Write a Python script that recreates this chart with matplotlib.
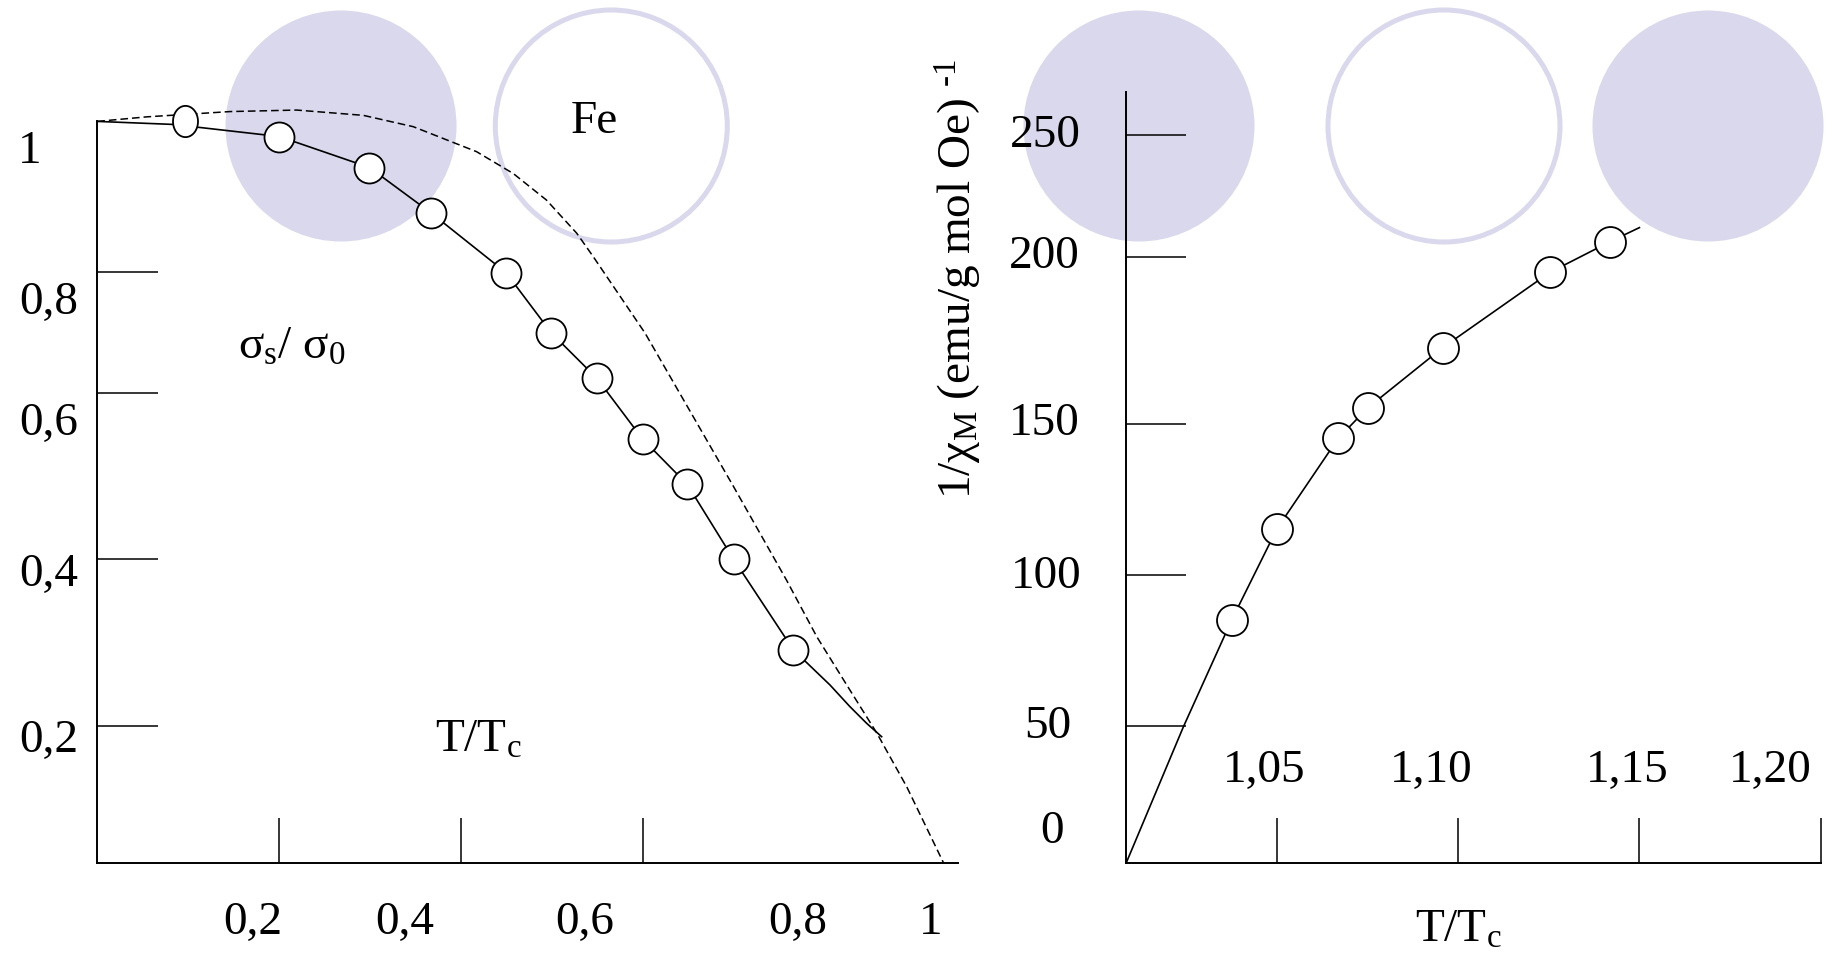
import numpy as np
import matplotlib
matplotlib.use("Agg")
import matplotlib.pyplot as plt
from matplotlib.patches import Circle
from matplotlib.path import Path

plt.rcParams['font.family'] = ['Liberation Serif', 'DejaVu Serif']
plt.rcParams['mathtext.fontset'] = 'custom'
plt.rcParams['mathtext.rm'] = 'Liberation Serif'
plt.rcParams['mathtext.it'] = 'Liberation Serif:italic'

# ---- left panel: sigma_s / sigma_0 vs T/Tc (Fe) ----
sig_t = [0.1045, 0.216, 0.323, 0.396, 0.485, 0.539, 0.593, 0.647, 0.700, 0.755, 0.826]
sig_v = [1.000, 0.980, 0.939, 0.879, 0.800, 0.720, 0.660, 0.580, 0.520, 0.421, 0.301]

fit_t = [0.0, 0.09, 0.216, 0.323, 0.396, 0.485, 0.539, 0.593, 0.647, 0.700, 0.755, 0.826,
         0.8695, 0.8932, 0.9130, 0.9308]
fit_v = [1.0, 0.996, 0.980, 0.939, 0.879, 0.800, 0.720, 0.660, 0.580, 0.520, 0.421, 0.301,
         0.2545, 0.2258, 0.2038, 0.1861]

theo_t = [0.0, 0.0586, 0.1575, 0.2366, 0.3157, 0.375, 0.450, 0.4937, 0.533, 0.569, 0.5886,
          0.650, 0.755, 0.818, 0.854, 0.893, 0.925, 0.9605, 0.990, 1.004]
theo_v = [1.0, 1.006, 1.013, 1.015, 1.008, 0.993, 0.960, 0.931, 0.896, 0.852, 0.821,
          0.720, 0.517, 0.393, 0.318, 0.248, 0.191, 0.120, 0.052, 0.0197]

# tick marks as drawn (hand drawn, not evenly spaced)
left_yticks = [0.8004, 0.6407, 0.4206, 0.2]
left_xticks = [0.216, 0.4318, 0.6477]
left_ylabels = ["1", "0,8", "0,6", "0,4", "0,2"]
left_xlabels = ["0,2", "0,4", "0,6", "0,8", "1"]

# ---- right panel: 1/chi_M vs T/Tc ----
chi_t = [1.0303, 1.0434, 1.0610, 1.0696, 1.0911, 1.1220, 1.1394]
chi_v = [83.3, 114.8, 145.8, 156.4, 177.0, 202.9, 213.5]
chi_fit_t = [1.0, 1.0164, 1.0303, 1.0434, 1.0610, 1.0696, 1.0911, 1.1220, 1.1394, 1.1478]
chi_fit_v = [0.0, 46.6, 83.3, 114.8, 145.8, 156.4, 177.0, 202.9, 213.5, 218.3]

right_yticks = [46.8, 98.9, 150.8, 208.3, 250.0]
right_xticks = [1.0433, 1.0955, 1.1478, 1.2]
right_ylabels = ["250", "200", "150", "100", "50", "0"]
right_xlabels = ["1,05", "1,10", "1,15", "1,20"]

W, H = 1837, 966
fig = plt.figure(figsize=(W / 100, H / 100), dpi=100)

# background layer in pixel coords (decorative discs + free text)
bg = fig.add_axes([0, 0, 1, 1], zorder=0)
bg.set_xlim(0, W)
bg.set_ylim(H, 0)
bg.axis("off")

lav = '#d9d8ec'
for cx in [341, 1139, 1708]:
    bg.add_patch(Circle((cx, 126), 115.5, facecolor=lav, edgecolor='none'))
for cx in [611.3, 1444]:
    bg.add_patch(Circle((cx, 126), 116, facecolor='none', edgecolor=lav, lw=3.6))


def pix_axes(l, r, t, b):
    return fig.add_axes([l / W, 1 - b / H, (r - l) / W, (b - t) / H], zorder=2)


def style(ax, ylen):
    ax.patch.set_visible(False)
    for s in ['top', 'right']:
        ax.spines[s].set_visible(False)
    for s in ['left', 'bottom']:
        ax.spines[s].set_linewidth(1.4)
    ax.tick_params(axis='y', direction='in', length=ylen, width=1.1, labelleft=False)
    ax.tick_params(axis='x', direction='in', length=32.4, width=1.1, labelbottom=False)


fs = 34
mk = dict(ls='none', marker='o', ms=21.6, mfc='white', mec='black', mew=1.3, clip_on=False, zorder=4)

# left panel
ax1 = pix_axes(97.3, 958, 121.4, 862.5)
ax1.set_xlim(0, 1.0214)
ax1.set_ylim(0.0197, 1.0)
style(ax1, 43.9)
ax1.set_yticks(left_yticks)
ax1.set_xticks(left_xticks)
ax1.plot(theo_t, theo_v, color='black', lw=1.1, dashes=(5, 2.6), clip_on=False, zorder=3)
ax1.plot(fit_t, fit_v, color='black', lw=1.2, clip_on=False, zorder=3)
ax1.plot(sig_t[1:], sig_v[1:], **mk)
ell = np.linspace(0, 2 * np.pi, 60)
ell_marker = Path(np.column_stack([0.8 * np.cos(ell), np.sin(ell)]), closed=True)
ax1.plot(sig_t[:1], sig_v[:1], **{**mk, 'marker': ell_marker, 'ms': 22.5})

for lab, x, y in zip(left_ylabels, [30, 49, 49, 49, 49], [163.3, 314, 434.7, 585.7, 752]):
    bg.text(x, y, lab, fontsize=fs, ha='center', va='baseline')
for lab, x in zip(left_xlabels, [252.5, 404.9, 584.7, 798, 930.5]):
    bg.text(x, 934, lab, fontsize=fs, ha='center', va='baseline')
bg.text(594.5, 132.7, "Fe", fontsize=fs, ha='center', va='baseline')
bg.text(238.3, 358.3, r'$\mathregular{\sigma_s/\ \sigma_0}$', fontsize=fs, ha='left', va='baseline')
bg.text(435, 751.7, r'$\mathregular{T/T_c}$', fontsize=fs, ha='left', va='baseline')

# right panel
ax2 = pix_axes(1126.4, 1820.6, 91.5, 862.5)
ax2.set_xlim(1.0, 1.2)
ax2.set_ylim(0, 265.1)
style(ax2, 43.4)
ax2.set_yticks(right_yticks)
ax2.set_xticks(right_xticks)
ax2.plot(chi_fit_t, chi_fit_v, color='black', lw=1.2, clip_on=False, zorder=3)
ax2.plot(chi_t, chi_v, **{**mk, 'ms': 22.3})

for lab, x, y in zip(right_ylabels, [1045, 1044, 1044, 1046.6, 1048, 1051.6],
                     [147.3, 268.3, 435, 588, 738, 843]):
    bg.text(x, y, lab, fontsize=fs, ha='center', va='baseline')
for lab, x in zip(right_xlabels, [1264, 1430.8, 1626.8, 1770]):
    bg.text(x, 781.7, lab, fontsize=fs, ha='center', va='baseline')
bg.text(1415, 941.7, r'$\mathregular{T/T_c}$', fontsize=fs, ha='left', va='baseline')
bg.text(959, 278.5, r'$\mathregular{1/\chi_M\ (emu/g\ mol\ Oe)\ {}^{\text{-}1}}$', fontsize=fs,
        rotation=90, ha='center', va='center')

fig.savefig("out.png", dpi=100)
